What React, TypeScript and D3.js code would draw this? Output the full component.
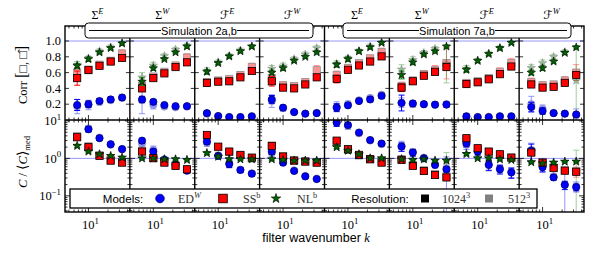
import React from "react";
import * as d3 from "d3";

// filter wavenumbers (shared by all panels)
const kValues = [6.7, 10, 14.8, 22, 33];
const quantities = ["Σ", "Σ", "ℱ", "ℱ", "Σ", "Σ", "ℱ", "ℱ"];
const quantitySup = ["E", "W", "E", "W", "E", "W", "E", "W"];
const simulations = ["Simulation 2a,b", "Simulation 7a,b"];
const corrTicks = [0.2, 0.4, 0.6, 0.8, 1.0];
const costTicks = [0.1, 1, 10];
const costTickExp = ["−1", "0", "1"];

// correlation, 1024^3 and 512^3
const corrED1024 = [
  [0.19, 0.2, 0.24, 0.26, 0.285],
  [0.26, 0.23, 0.19, 0.175, 0.175],
  [0.087, 0.05, 0.036, 0.036, 0.045],
  [0.26, 0.156, 0.1, 0.08, 0.087],
  [0.156, 0.186, 0.24, 0.26, 0.305],
  [0.215, 0.21, 0.2, 0.195, 0.195],
  [0.045, 0.036, 0.036, 0.045, 0.045],
  [0.164, 0.113, 0.087, 0.08, 0.07],
];
const corrED512 = [
  [0.17, 0.19, 0.23, 0.25, 0.28],
  [0.25, 0.19, 0.17, 0.16, 0.17],
  [0.08, 0.05, 0.04, 0.04, 0.05],
  [0.24, 0.15, 0.1, 0.08, 0.09],
  [0.17, 0.2, 0.25, 0.28, 0.32],
  [0.22, 0.2, 0.2, 0.19, 0.2],
  [0.05, 0.04, 0.04, 0.05, 0.05],
  [0.2, 0.14, 0.09, 0.08, 0.06],
];
const corrSS1024 = [
  [0.53, 0.635, 0.686, 0.74, 0.785],
  [0.4, 0.53, 0.59, 0.67, 0.73],
  [0.47, 0.485, 0.49, 0.54, 0.62],
  [0.49, 0.41, 0.4, 0.45, 0.54],
  [0.52, 0.635, 0.69, 0.74, 0.805],
  [0.41, 0.49, 0.56, 0.61, 0.67],
  [0.455, 0.477, 0.515, 0.58, 0.677],
  [0.45, 0.41, 0.42, 0.47, 0.57],
];
const corrSS512 = [
  [0.6, 0.63, 0.7, 0.75, 0.84],
  [0.43, 0.55, 0.61, 0.69, 0.79],
  [0.48, 0.5, 0.52, 0.57, 0.67],
  [0.53, 0.44, 0.43, 0.48, 0.63],
  [0.57, 0.66, 0.72, 0.78, 0.86],
  [0.43, 0.5, 0.58, 0.63, 0.72],
  [0.47, 0.49, 0.53, 0.61, 0.72],
  [0.48, 0.44, 0.45, 0.5, 0.6],
];
const corrNL1024 = [
  [0.686, 0.77, 0.856, 0.91, 0.97],
  [0.485, 0.656, 0.77, 0.856, 0.93],
  [0.61, 0.72, 0.805, 0.87, 0.93],
  [0.6, 0.656, 0.75, 0.8, 0.856],
  [0.7, 0.77, 0.87, 0.92, 0.977],
  [0.57, 0.73, 0.83, 0.87, 0.93],
  [0.635, 0.75, 0.835, 0.91, 0.977],
  [0.6, 0.656, 0.74, 0.85, 0.92],
];
const corrNL512 = [
  [0.7, 0.78, 0.87, 0.92, 0.97],
  [0.54, 0.69, 0.81, 0.89, 0.94],
  [0.62, 0.73, 0.81, 0.88, 0.93],
  [0.65, 0.68, 0.77, 0.83, 0.91],
  [0.71, 0.78, 0.87, 0.93, 0.98],
  [0.64, 0.76, 0.85, 0.9, 0.71],
  [0.65, 0.75, 0.84, 0.91, 0.98],
  [0.66, 0.72, 0.8, 0.86, 0.5],
];

const corrErrED1024 = [
  [0.07, 0.04, 0.03, 0.03, 0.03],
  [0.04, 0.03, 0.02, 0.02, 0.02],
  [0.03, 0.02, 0.02, 0.02, 0.02],
  [0.05, 0.03, 0.02, 0.02, 0.02],
  [0.05, 0.03, 0.03, 0.03, 0.03],
  [0.1, 0.03, 0.03, 0.03, 0.03],
  [0.03, 0.02, 0.02, 0.02, 0.02],
  [0.06, 0.04, 0.02, 0.02, 0.02],
];
const corrErrED512 = [
  [0.09, 0.06, 0.04, 0.03, 0.03],
  [0.17, 0.05, 0.03, 0.02, 0.02],
  [0.03, 0.02, 0.02, 0.02, 0.02],
  [0.08, 0.04, 0.02, 0.02, 0.02],
  [0.06, 0.04, 0.03, 0.03, 0.03],
  [0.06, 0.04, 0.03, 0.03, 0.03],
  [0.03, 0.02, 0.02, 0.02, 0.02],
  [0.1, 0.05, 0.03, 0.03, 0.08],
];
const corrErrSS1024 = [
  [0.09, 0.04, 0.03, 0.03, 0.03],
  [0.04, 0.03, 0.03, 0.03, 0.03],
  [0.04, 0.03, 0.03, 0.03, 0.03],
  [0.06, 0.03, 0.03, 0.03, 0.03],
  [0.05, 0.03, 0.03, 0.03, 0.03],
  [0.05, 0.03, 0.03, 0.03, 0.03],
  [0.04, 0.03, 0.03, 0.03, 0.03],
  [0.04, 0.03, 0.03, 0.03, 0.03],
];
const corrErrSS512 = [
  [0.06, 0.04, 0.03, 0.04, 0.05],
  [0.05, 0.04, 0.03, 0.04, 0.05],
  [0.04, 0.03, 0.03, 0.04, 0.05],
  [0.07, 0.04, 0.03, 0.04, 0.06],
  [0.05, 0.04, 0.03, 0.04, 0.05],
  [0.05, 0.04, 0.04, 0.06, 0.2],
  [0.04, 0.03, 0.03, 0.05, 0.06],
  [0.05, 0.04, 0.04, 0.05, 0.1],
];
const corrErrNL1024 = [
  [0.03, 0.03, 0.02, 0.02, 0.02],
  [0.05, 0.03, 0.02, 0.02, 0.02],
  [0.03, 0.02, 0.02, 0.02, 0.02],
  [0.03, 0.03, 0.02, 0.02, 0.02],
  [0.03, 0.03, 0.02, 0.02, 0.02],
  [0.05, 0.03, 0.02, 0.02, 0.02],
  [0.03, 0.02, 0.02, 0.02, 0.02],
  [0.03, 0.03, 0.02, 0.02, 0.02],
];
const corrErrNL512 = [
  [0.04, 0.03, 0.03, 0.03, 0.02],
  [0.06, 0.04, 0.03, 0.03, 0.03],
  [0.04, 0.03, 0.03, 0.03, 0.02],
  [0.04, 0.04, 0.03, 0.03, 0.03],
  [0.04, 0.03, 0.03, 0.03, 0.02],
  [0.06, 0.04, 0.03, 0.03, 0.24],
  [0.04, 0.03, 0.03, 0.03, 0.02],
  [0.04, 0.04, 0.03, 0.03, 0.42],
];

// relative cost C/<C>_med
const costED1024 = [
  [14, 6.0, 3.46, 2.39, 1.76],
  [2.98, 1.52, 0.91, 0.67, 0.47],
  [2.81, 1.17, 0.71, 0.49, 0.39],
  [1.52, 0.77, 0.46, 0.33, 0.28],
  [9.0, 7.8, 4.9, 3.1, 2.5],
  [2.06, 1.43, 1.01, 0.67, 0.51],
  [2.54, 1.52, 0.67, 0.51, 0.42],
  [1.6, 0.58, 0.31, 0.196, 0.17],
];
const costED512 = [
  [14, 6.3, 3.6, 2.3, 1.8],
  [2.5, 1.7, 0.95, 0.7, 0.5],
  [2.6, 1.2, 0.75, 0.5, 0.4],
  [1.4, 0.8, 0.48, 0.34, 0.29],
  [9.5, 7.4, 4.7, 3.0, 2.4],
  [2.2, 1.5, 1.05, 0.7, 0.55],
  [2.3, 1.6, 0.7, 0.55, 0.44],
  [1.7, 0.62, 0.33, 0.2, 0.18],
];
const costSS1024 = [
  [3.67, 1.99, 1.17, 0.87, 0.77],
  [1.52, 1.01, 0.77, 0.63, 0.51],
  [4.23, 2.06, 1.52, 1.24, 1.05],
  [2.15, 1.12, 0.87, 0.82, 0.77],
  [2.98, 1.76, 1.24, 0.95, 0.77],
  [0.91, 0.63, 0.46, 0.36, 0.31],
  [3.46, 1.87, 1.52, 1.29, 1.05],
  [1.43, 0.77, 0.55, 0.47, 0.44],
];
const costSS512 = [
  [3.9, 2.1, 1.2, 0.9, 0.8],
  [1.6, 1.05, 0.8, 0.65, 0.52],
  [4.0, 2.0, 1.5, 1.2, 1.0],
  [2.2, 1.15, 0.9, 0.84, 0.78],
  [2.8, 1.7, 1.2, 0.95, 0.8],
  [0.95, 0.66, 0.48, 0.38, 0.33],
  [3.3, 1.8, 1.5, 1.25, 1.05],
  [1.5, 0.8, 0.57, 0.48, 0.45],
];
const costNL1024 = [
  [2.15, 1.52, 1.29, 1.17, 1.05],
  [1.0, 1.0, 0.95, 0.95, 0.91],
  [1.38, 1.12, 0.95, 0.95, 0.95],
  [0.95, 0.91, 0.87, 0.87, 0.87],
  [1.99, 1.61, 1.29, 1.01, 1.01],
  [0.95, 0.91, 0.95, 0.87, 0.87],
  [1.32, 1.01, 1.01, 0.95, 0.91],
  [0.79, 0.74, 0.77, 0.82, 0.82],
];
const costNL512 = [
  [2.2, 1.6, 1.3, 1.15, 1.05],
  [1.02, 1.0, 0.96, 0.95, 0.92],
  [1.4, 1.1, 0.97, 0.95, 0.95],
  [0.96, 0.92, 0.88, 0.88, 0.88],
  [2.0, 1.6, 1.3, 1.0, 1.0],
  [0.97, 0.93, 0.95, 0.88, 0.9],
  [1.3, 1.0, 1.0, 0.95, 0.92],
  [0.8, 0.76, 0.78, 0.82, 0.83],
];

// relative error of the cost
const costErrED1024 = [
  [0.2, 0.15, 0.12, 0.12, 0.12],
  [0.15, 0.15, 0.12, 0.1, 0.1],
  [0.15, 0.15, 0.2, 0.15, 0.15],
  [0.15, 0.15, 0.12, 0.12, 0.12],
  [0.2, 0.15, 0.12, 0.12, 0.12],
  [0.25, 0.2, 0.15, 0.15, 0.15],
  [0.2, 0.2, 0.3, 0.25, 0.3],
  [0.5, 0.25, 0.15, 0.25, 0.2],
];
const costErrED512 = [
  [0.25, 0.2, 0.15, 0.12, 0.12],
  [0.3, 0.25, 0.15, 0.12, 0.12],
  [0.2, 0.2, 0.25, 0.15, 0.15],
  [0.2, 0.15, 0.12, 0.12, 0.12],
  [0.25, 0.2, 0.15, 0.12, 0.12],
  [0.3, 0.2, 0.15, 0.2, 1.0],
  [0.25, 0.2, 0.3, 0.25, 0.3],
  [0.5, 0.3, 0.15, 1.0, 0.3],
];
const costErrSS1024 = [
  [0.15, 0.1, 0.1, 0.1, 0.1],
  [0.12, 0.1, 0.1, 0.1, 0.1],
  [0.15, 0.1, 0.1, 0.1, 0.1],
  [0.15, 0.1, 0.1, 0.1, 0.1],
  [0.15, 0.1, 0.1, 0.1, 0.1],
  [0.15, 0.12, 0.1, 0.1, 0.1],
  [0.15, 0.1, 0.1, 0.1, 0.1],
  [0.15, 0.1, 0.1, 0.1, 0.1],
];
const costErrSS512 = [
  [0.18, 0.12, 0.12, 0.12, 0.12],
  [0.15, 0.12, 0.12, 0.12, 0.12],
  [0.18, 0.12, 0.12, 0.12, 0.12],
  [0.18, 0.12, 0.12, 0.12, 0.12],
  [0.18, 0.12, 0.12, 0.12, 0.12],
  [0.18, 0.15, 0.12, 0.12, 0.12],
  [0.18, 0.12, 0.12, 0.12, 0.12],
  [0.18, 0.12, 0.12, 0.12, 0.3],
];
const costErrNL1024 = [
  [0.08, 0.08, 0.08, 0.08, 0.08],
  [0.06, 0.06, 0.06, 0.06, 0.06],
  [0.08, 0.08, 0.06, 0.06, 0.06],
  [0.06, 0.06, 0.06, 0.06, 0.06],
  [0.08, 0.08, 0.08, 0.06, 0.06],
  [0.06, 0.06, 0.06, 0.06, 0.06],
  [0.08, 0.06, 0.06, 0.06, 0.06],
  [0.06, 0.06, 0.06, 0.06, 0.06],
];
const costErrNL512 = [
  [0.1, 0.1, 0.1, 0.1, 0.1],
  [0.08, 0.08, 0.08, 0.08, 0.08],
  [0.1, 0.1, 0.08, 0.08, 0.08],
  [0.08, 0.08, 0.08, 0.08, 0.08],
  [0.1, 0.1, 0.1, 0.08, 0.08],
  [0.08, 0.08, 0.08, 0.08, 0.6],
  [0.1, 0.08, 0.08, 0.08, 0.08],
  [0.08, 0.08, 0.08, 0.08, 1.0],
];

const models = [
  { key: "ED", fill: "#0000ff", stroke: "#00006e", err: "#0000ff", shape: "circle" },
  { key: "SS", fill: "#ff0000", stroke: "#000000", err: "#ff0000", shape: "square" },
  { key: "NL", fill: "#006400", stroke: "#000000", err: "#1f8f1f", shape: "star" },
];

const corrData: any = {
  ED: { 512: [corrED512, corrErrED512], 1024: [corrED1024, corrErrED1024] },
  SS: { 512: [corrSS512, corrErrSS512], 1024: [corrSS1024, corrErrSS1024] },
  NL: { 512: [corrNL512, corrErrNL512], 1024: [corrNL1024, corrErrNL1024] },
};
const costData: any = {
  ED: { 512: [costED512, costErrED512], 1024: [costED1024, costErrED1024] },
  SS: { 512: [costSS512, costErrSS512], 1024: [costSS1024, costErrSS1024] },
  NL: { 512: [costNL512, costErrNL512], 1024: [costNL1024, costErrNL1024] },
};

const W = 595, H = 254;
const LEFT = 65, RIGHT = 584, TOP = 26, MID = 120, BOTTOM = 212;
const NP = 8;
const PW = (RIGHT - LEFT) / NP;
const SERIF = "'Liberation Serif', 'DejaVu Serif', 'DejaVu Sans', serif";
const SANS = "'Liberation Sans', Arial, sans-serif";

const x = d3.scaleLog().domain([4.35, 43.5]).range([0, PW]);
const yCorr = d3.scaleLinear().domain([0, 1.19]).range([MID, TOP]);
const yCost = d3.scaleLog().domain([0.037, 10.6]).range([BOTTOM, MID]);

const starPath = d3.symbol(d3.symbolStar, 22)() as string;
const starLegend = d3.symbol(d3.symbolStar, 28)() as string;

function Marker({ shape, cx, cy, fill, stroke, big }: any) {
  const s = big ? 4.3 : 3.6;
  if (shape === "circle")
    return <circle cx={cx} cy={cy} r={s} fill={fill} stroke={stroke} strokeWidth={0.8} />;
  if (shape === "square")
    return <rect x={cx - s} y={cy - s} width={2 * s} height={2 * s} fill={fill} stroke={stroke} strokeWidth={0.8} />;
  return (
    <path d={big ? starLegend : starPath} transform={`translate(${cx},${cy})`} fill={fill} stroke={stroke} strokeWidth={0.6} />
  );
}

function ErrBar({ cx, y1, y2, color }: any) {
  return (
    <g stroke={color} strokeWidth={1}>
      <line x1={cx} x2={cx} y1={y1} y2={y2} />
      <line x1={cx - 3} x2={cx + 3} y1={y1} y2={y1} />
      <line x1={cx - 3} x2={cx + 3} y1={y2} y2={y2} />
    </g>
  );
}

function Sup({ base, sup, italic, size = 12.5 }: any) {
  return (
    <>
      {base}
      <tspan fontSize={size * 0.7} dy={-size * 0.42} fontStyle={italic ? "italic" : "normal"}>
        {sup}
      </tspan>
    </>
  );
}

const minorK = [5, 6, 7, 8, 9, 20, 30, 40];
const costMinor: number[] = [];
[0.01, 0.1, 1].forEach((d) => [2, 3, 4, 5, 6, 7, 8, 9].forEach((m) => {
  const v = d * m;
  if (v > 0.037 && v < 10.6) costMinor.push(v);
}));

export default function App() {
  const panels = d3.range(NP);
  const x0 = (p: number) => LEFT + p * PW;

  const cellMarks = (p: number, row: "corr" | "cost") => {
    const out: any[] = [];
    ["512", "1024"].forEach((res) => {
      const faded = res === "512";
      models.forEach((m) => {
        const [vals, errs] = (row === "corr" ? corrData : costData)[m.key][res];
        kValues.forEach((k, i) => {
          const v = vals[p][i];
          const e = errs[p][i];
          const cx = x0(p) + x(k);
          let cy, y1, y2;
          if (row === "corr") {
            cy = yCorr(v);
            y1 = yCorr(v + e);
            y2 = yCorr(Math.max(v - e, -0.2));
          } else {
            cy = yCost(v);
            y1 = yCost(v * (1 + e));
            y2 = e >= 1 ? BOTTOM + 10 : yCost(v * (1 - e));
          }
          out.push(
            <g key={`${row}-${res}-${m.key}-${i}`} opacity={faded ? 0.42 : 1}>
              <ErrBar cx={cx} y1={y1} y2={y2} color={m.err} />
              <Marker shape={m.shape} cx={cx} cy={cy} fill={m.fill} stroke={m.stroke} />
            </g>
          );
        });
      });
    });
    return out;
  };

  const xTicks = (yEdge: number, dir: number, key: string) =>
    panels.map((p) => (
      <g key={`${key}-${p}`} stroke="#000" strokeWidth={0.8}>
        <line x1={x0(p) + x(10)} x2={x0(p) + x(10)} y1={yEdge} y2={yEdge + dir * 5} />
        {minorK.map((k) => (
          <line key={k} x1={x0(p) + x(k)} x2={x0(p) + x(k)} y1={yEdge} y2={yEdge + dir * 2.5} />
        ))}
      </g>
    ));

  return (
    <svg width={W} height={H} style={{ position: "absolute", left: 0, top: 0, background: "#fff" }}>
      <defs>
        {panels.map((p) => (
          <React.Fragment key={p}>
            <clipPath id={`clip-corr-${p}`}>
              <rect x={x0(p)} y={TOP} width={PW} height={MID - TOP} />
            </clipPath>
            <clipPath id={`clip-cost-${p}`}>
              <rect x={x0(p)} y={MID} width={PW} height={BOTTOM - MID} />
            </clipPath>
          </React.Fragment>
        ))}
      </defs>

      {/* reference lines */}
      <line x1={LEFT} x2={RIGHT} y1={yCorr(1)} y2={yCorr(1)} stroke="#8c8cff" strokeWidth={0.9} />
      <line x1={LEFT} x2={RIGHT} y1={yCost(1)} y2={yCost(1)} stroke="#8c8cff" strokeWidth={0.9} />

      {panels.map((p) => (
        <g key={`c${p}`} clipPath={`url(#clip-corr-${p})`}>{cellMarks(p, "corr")}</g>
      ))}
      {panels.map((p) => (
        <g key={`k${p}`} clipPath={`url(#clip-cost-${p})`}>{cellMarks(p, "cost")}</g>
      ))}

      {/* y ticks inside every panel */}
      {panels.map((p) => (
        <g key={`yt${p}`} stroke="#000" strokeWidth={0.8}>
          {corrTicks.map((t) => (
            <React.Fragment key={t}>
              <line x1={x0(p)} x2={x0(p) + 4} y1={yCorr(t)} y2={yCorr(t)} />
              <line x1={x0(p) + PW} x2={x0(p) + PW - 4} y1={yCorr(t)} y2={yCorr(t)} />
            </React.Fragment>
          ))}
          {costTicks.map((t) => (
            <React.Fragment key={t}>
              <line x1={x0(p)} x2={x0(p) + 5} y1={yCost(t)} y2={yCost(t)} />
              <line x1={x0(p) + PW} x2={x0(p) + PW - 5} y1={yCost(t)} y2={yCost(t)} />
            </React.Fragment>
          ))}
          {costMinor.map((t) => (
            <React.Fragment key={t}>
              <line x1={x0(p)} x2={x0(p) + 2.5} y1={yCost(t)} y2={yCost(t)} />
              <line x1={x0(p) + PW} x2={x0(p) + PW - 2.5} y1={yCost(t)} y2={yCost(t)} />
            </React.Fragment>
          ))}
        </g>
      ))}
      {xTicks(TOP, 1, "xt1")}
      {xTicks(MID, -1, "xt2")}
      {xTicks(MID, 1, "xt3")}
      {xTicks(BOTTOM, -1, "xt4")}

      {/* frames */}
      <g fill="none" stroke="#000" strokeWidth={1.4}>
        <rect x={LEFT} y={TOP} width={RIGHT - LEFT} height={BOTTOM - TOP} />
        <line x1={LEFT} x2={RIGHT} y1={MID} y2={MID} />
        {panels.slice(1).map((p) => (
          <line key={p} x1={x0(p)} x2={x0(p)} y1={TOP} y2={BOTTOM} />
        ))}
      </g>

      {/* column titles */}
      {panels.map((p) => (
        <text key={`t${p}`} x={x0(p) + PW / 2} y={19} textAnchor="middle" fontFamily={SERIF} fontSize={12}>
          <Sup base={quantities[p]} sup={quantitySup[p]} italic size={12} />
        </text>
      ))}

      {/* simulation boxes */}
      {simulations.map((s, j) => {
        const bx = j === 0 ? 85 : 343;
        const bw = 228;
        const cx = bx + bw / 2;
        return (
          <g key={s}>
            <rect x={bx} y={23} width={bw} height={15} rx={3.5} fill="#fff" stroke="#000" strokeWidth={1} />
            <line x1={bx + 4} x2={cx - 38} y1={30.5} y2={30.5} stroke="#000" strokeWidth={1} />
            <line x1={cx + 38} x2={bx + bw - 4} y1={30.5} y2={30.5} stroke="#000" strokeWidth={1} />
            <text x={cx} y={34.5} textAnchor="middle" fontFamily={SANS} fontSize={11}>
              {s}
            </text>
          </g>
        );
      })}

      {/* y tick labels */}
      {corrTicks.map((t) => (
        <text key={t} x={61} y={yCorr(t) + 4.2} textAnchor="end" fontFamily={SERIF} fontSize={12.5}>
          {t.toFixed(1)}
        </text>
      ))}
      {costTicks.map((t, i) => (
        <text key={t} x={61} y={yCost(t) + 4.2} textAnchor="end" fontFamily={SERIF} fontSize={12.5}>
          <Sup base="10" sup={costTickExp[i]} />
        </text>
      ))}

      {/* x tick labels */}
      {panels.map((p) => (
        <text key={`xl${p}`} x={x0(p) + x(10) + 2} y={229} textAnchor="middle" fontFamily={SERIF} fontSize={12.5}>
          <Sup base="10" sup="1" />
        </text>
      ))}
      <text x={316} y={242} textAnchor="middle" fontFamily={SANS} fontSize={12.5}>
        filter wavenumber <tspan fontFamily={SERIF} fontStyle="italic">k</tspan>
      </text>

      {/* y axis labels */}
      <text transform="translate(27,75) rotate(-90)" textAnchor="middle" fontFamily={SERIF} fontSize={12.5}>
        Corr <tspan fontSize={16}>[</tspan>□, □̂<tspan fontSize={16}>]</tspan>
      </text>
      <text transform="translate(27,162) rotate(-90)" textAnchor="middle" fontFamily={SERIF} fontSize={12.5}>
        <tspan fontStyle="italic">C</tspan> / <tspan fontSize={14}>⟨</tspan>
        <tspan fontStyle="italic">C</tspan>
        <tspan fontSize={14}>⟩</tspan>
        <tspan fontSize={8.5} dy={3}>med</tspan>
      </text>

      {/* legend */}
      <g>
        <rect x={70} y={189} width={467} height={19} fill="#fff" stroke="#000" strokeWidth={1.3} />
        <text x={123} y={203} textAnchor="middle" fontFamily={SANS} fontSize={11.5}>Models:</text>
        <Marker shape="circle" cx={160} cy={198.5} fill="#0000ff" stroke="#00006e" big />
        <text x={178} y={203} fontFamily={SERIF} fontSize={12} fill="#333">
          <Sup base="ED" sup="W" italic size={12} />
        </text>
        <Marker shape="square" cx={223} cy={198.5} fill="#ff0000" stroke="#000" big />
        <text x={243} y={203} fontFamily={SERIF} fontSize={12} fill="#333">
          <Sup base="SS" sup="b" size={12} />
        </text>
        <Marker shape="star" cx={276} cy={198.5} fill="#006400" stroke="#000" big />
        <text x={297} y={203} fontFamily={SERIF} fontSize={12} fill="#333">
          <Sup base="NL" sup="b" size={12} />
        </text>
        <text x={380} y={203} textAnchor="middle" fontFamily={SANS} fontSize={11.5}>Resolution:</text>
        <rect x={421} y={194.5} width={8} height={8} fill="#000" />
        <text x={442} y={203} fontFamily={SERIF} fontSize={12} fill="#333">
          <Sup base="1024" sup="3" size={12} />
        </text>
        <rect x={485} y={194.5} width={8} height={8} fill="#808080" />
        <text x={508} y={203} fontFamily={SERIF} fontSize={12} fill="#333">
          <Sup base="512" sup="3" size={12} />
        </text>
      </g>
    </svg>
  );
}
